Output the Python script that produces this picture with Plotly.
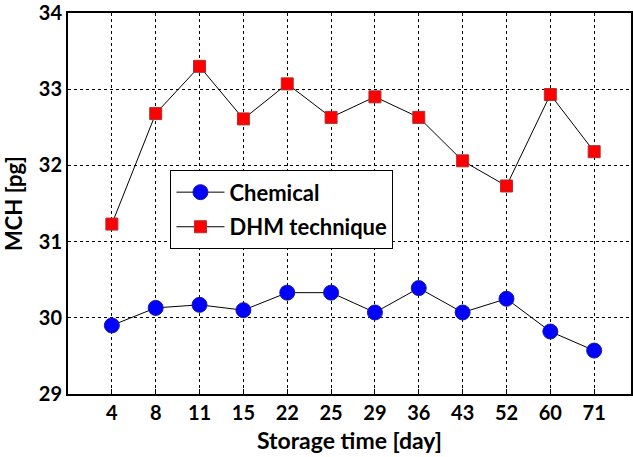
import plotly.graph_objects as go

days = ["4", "8", "11", "15", "22", "25", "29", "36", "43", "52", "60", "71"]
chemical = [29.90, 30.13, 30.17, 30.10, 30.33, 30.33, 30.07, 30.39, 30.07, 30.25, 29.82, 29.57]
dhm = [31.23, 32.68, 33.30, 32.61, 33.07, 32.63, 32.90, 32.63, 32.06, 31.73, 32.93, 32.18]
y_ticks = [29, 30, 31, 32, 33, 34]

FONT = "Lato"

fig = go.Figure()
fig.add_trace(go.Scatter(
    x=days, y=chemical, name="Chemical", mode="lines+markers", legendgroup="a",
    line=dict(color="black", width=1),
    marker=dict(symbol="circle", size=15, color="#0000ff", line=dict(color="#1a1aa0", width=1)),
))
fig.add_trace(go.Scatter(
    x=days, y=dhm, name="DHM technique", mode="lines+markers", legendgroup="b",
    line=dict(color="black", width=1),
    marker=dict(symbol="square", size=12, color="#ff0000", line=dict(color="#b03030", width=1)),
))

fig.update_layout(
    width=633, height=457,
    margin=dict(l=68, r=0, t=12, b=63),
    paper_bgcolor="white", plot_bgcolor="white",
    font=dict(family=FONT, color="black"),
    showlegend=True,
    legend=dict(
        x=0.182, y=0.587, xanchor="left", yanchor="top",
        bordercolor="black", borderwidth=1, bgcolor="white",
        font=dict(family=FONT, size=22, color="black", weight="bold"),
        traceorder="grouped", tracegroupgap=3, itemwidth=48,
    ),
    xaxis=dict(
        type="category", range=[-1, 11.84],
        showline=True, linecolor="black", linewidth=2, mirror=True,
        showgrid=True, gridcolor="black", griddash="dot", gridwidth=1,
        ticks="inside", ticklen=5, tickcolor="black",
        tickfont=dict(family=FONT, size=20, weight="bold"),
        title=dict(text="Storage time [day]", font=dict(family=FONT, size=23, weight="bold"), standoff=10),
        zeroline=False,
    ),
    yaxis=dict(
        range=[29, 34], tickvals=y_ticks, ticklabeloverflow="allow",
        showline=True, linecolor="black", linewidth=2, mirror=True,
        showgrid=True, gridcolor="black", griddash="dot", gridwidth=1,
        ticks="", tickfont=dict(family=FONT, size=20, weight="bold"),
        title=dict(text="MCH [pg]", font=dict(family=FONT, size=22, weight="bold"), standoff=10),
        zeroline=False,
    ),
)

fig.write_html("out.html")
